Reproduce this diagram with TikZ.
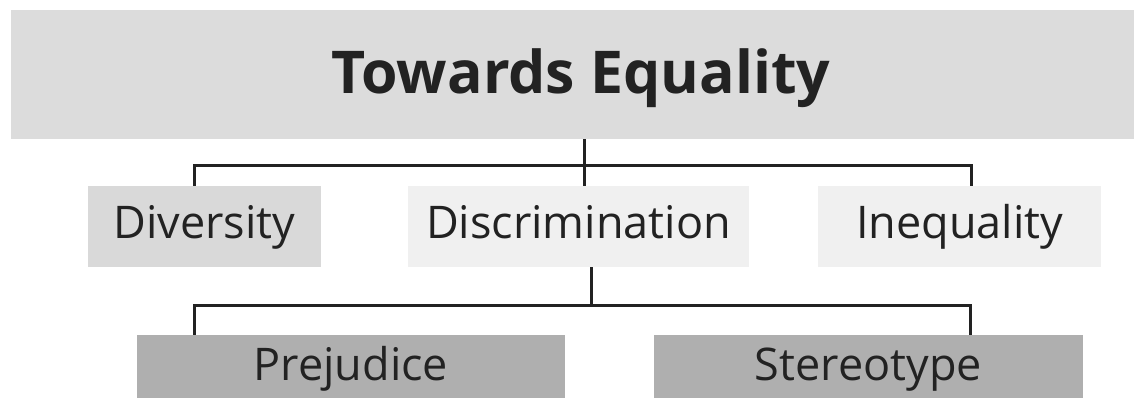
\documentclass[tikz,border=0pt]{standalone}
\usepackage{fontspec}
\setmainfont{Open Sans}
\definecolor{titlegray}{HTML}{DCDCDC}
\definecolor{divgray}{HTML}{D9D9D9}
\definecolor{lightgray}{HTML}{F0F0F0}
\definecolor{darkbox}{HTML}{AFAFAF}
\definecolor{linecol}{HTML}{222222}
\definecolor{textcol}{HTML}{222222}
\begin{document}
\begin{tikzpicture}[x=1pt,y=-1pt,
  box/.style={rectangle, inner sep=0pt, text=textcol, anchor=center},
  midtext/.style={font=\fontsize{45}{52}\selectfont, text height=31pt, text depth=8pt},
  lowtext/.style={font=\fontsize{45}{52}\selectfont, text height=31pt, text depth=4pt},
  conn/.style={draw=linecol, line width=3pt, line join=miter}]
\useasboundingbox (0,0) rectangle (1134,398);
\node[box, fill=titlegray, minimum width=1123pt, minimum height=129pt,
  font=\fontsize{59}{66}\selectfont\bfseries, text height=40pt, text depth=1pt] (title) at (572.5,74.5) {\hspace*{17pt}Towards Equality};
\node[box, midtext, fill=divgray, minimum width=233pt, minimum height=81pt] (div) at (204.5,226.5) {Diversity};
\node[box, midtext, fill=lightgray, minimum width=341pt, minimum height=81pt] (disc) at (578.5,226.5) {Discrimination};
\node[box, midtext, fill=lightgray, minimum width=283pt, minimum height=81pt] (ineq) at (959.5,226.5) {Inequality};
\node[box, lowtext, fill=darkbox, minimum width=428pt, minimum height=63pt] (prej) at (351,366.5) {Prejudice};
\node[box, lowtext, fill=darkbox, minimum width=429pt, minimum height=63pt] (ster) at (868.5,366.5) {Stereotype};
% junctions
\coordinate (j1) at (584,166);
\coordinate (l1) at (194,166);
\coordinate (r1) at (971,166);
\coordinate (j2) at (591,305);
\coordinate (l2) at (194,305);
\coordinate (r2) at (970,305);
\draw[conn] (title.south -| j1) -- (disc.north -| j1);
\draw[conn] (div.north -| l1) -- (l1) -- (r1) -- (ineq.north -| r1);
\draw[conn] (disc.south -| j2) -- (j2);
\draw[conn] (prej.north -| l2) -- (l2) -- (r2) -- (ster.north -| r2);
\end{tikzpicture}
\end{document}
